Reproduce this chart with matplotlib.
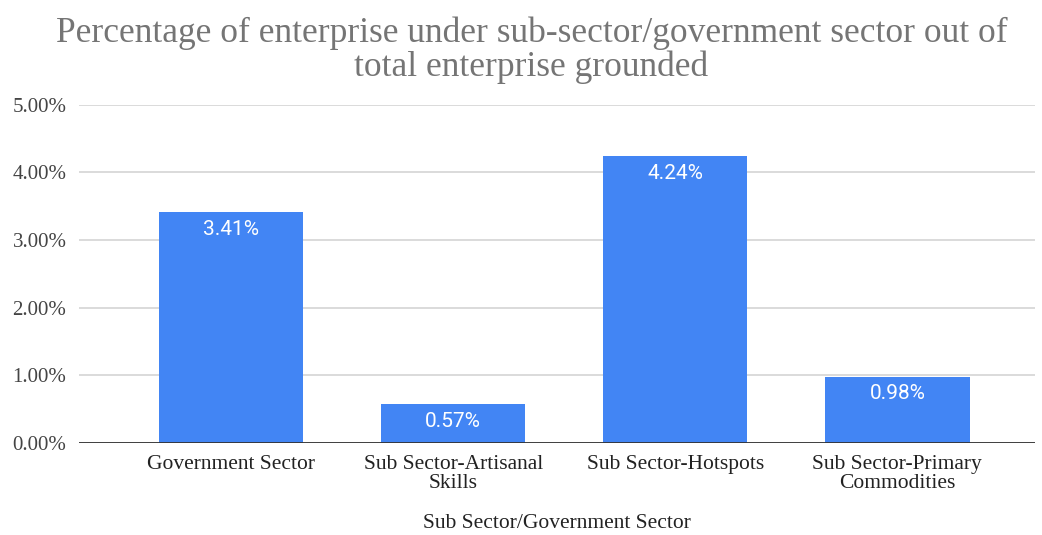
import matplotlib.pyplot as plt
from matplotlib.ticker import FuncFormatter

# Share of grounded enterprises by sector (percent)
sectors = ["Government Sector", "Sub Sector-Artisanal\nSkills",
           "Sub Sector-Hotspots", "Sub Sector-Primary\nCommodities"]
shares = [3.41, 0.57, 4.24, 0.98]
yticks = [0, 1, 2, 3, 4, 5]

serif = ["Liberation Serif", "DejaVu Serif"]
bar_blue = "#4285F4"

fig = plt.figure(figsize=(10.42, 5.35), dpi=100)
ax = fig.add_axes([0.0758, 0.172, 0.9175, 0.632])

x = range(len(sectors))
bars = ax.bar(x, shares, width=0.65, color=bar_blue, zorder=2)

for rect, v in zip(bars, shares):
    ax.annotate(f"{v:.2f}%", (rect.get_x() + rect.get_width() / 2, v),
                xytext=(0, -17), textcoords="offset pixels",
                ha="center", va="center", color="white", fontsize=15,
                family=["Roboto", "DejaVu Sans"], zorder=3)

ax.set_xlim(-0.685, 3.62)
ax.set_ylim(0, 5)
ax.set_yticks(yticks)
ax.yaxis.set_major_formatter(FuncFormatter(lambda v, p: f"{v:.2f}%"))
ax.grid(axis="y", color="#d4d4d4", linewidth=1.2, zorder=0)
ax.axhline(0, color="#333333", linewidth=1.3, zorder=3)

for s in ax.spines.values():
    s.set_visible(False)
ax.tick_params(axis="both", length=0)
ax.tick_params(axis="y", pad=9, labelsize=15, labelcolor="#444444")
ax.tick_params(axis="x", pad=9, labelsize=15.5, labelcolor="#222222")
for lab in ax.get_yticklabels() + ax.get_xticklabels():
    lab.set_family(serif)

ax.set_xticks(list(x))
ax.set_xticklabels(sectors, family=serif, linespacing=0.95)
ax.set_xlabel("Sub Sector/Government Sector", family=serif, fontsize=15.5,
              color="#222222", va="center")
ax.xaxis.set_label_coords(0.5, -0.237)

fig.text(0.51, 0.906, "Percentage of enterprise under sub-sector/government sector out of\n"
         "total enterprise grounded", ha="center", va="center", family=serif,
         fontsize=25.5, color="#757575", linespacing=1.0)

fig.savefig("out.png", dpi=100)
